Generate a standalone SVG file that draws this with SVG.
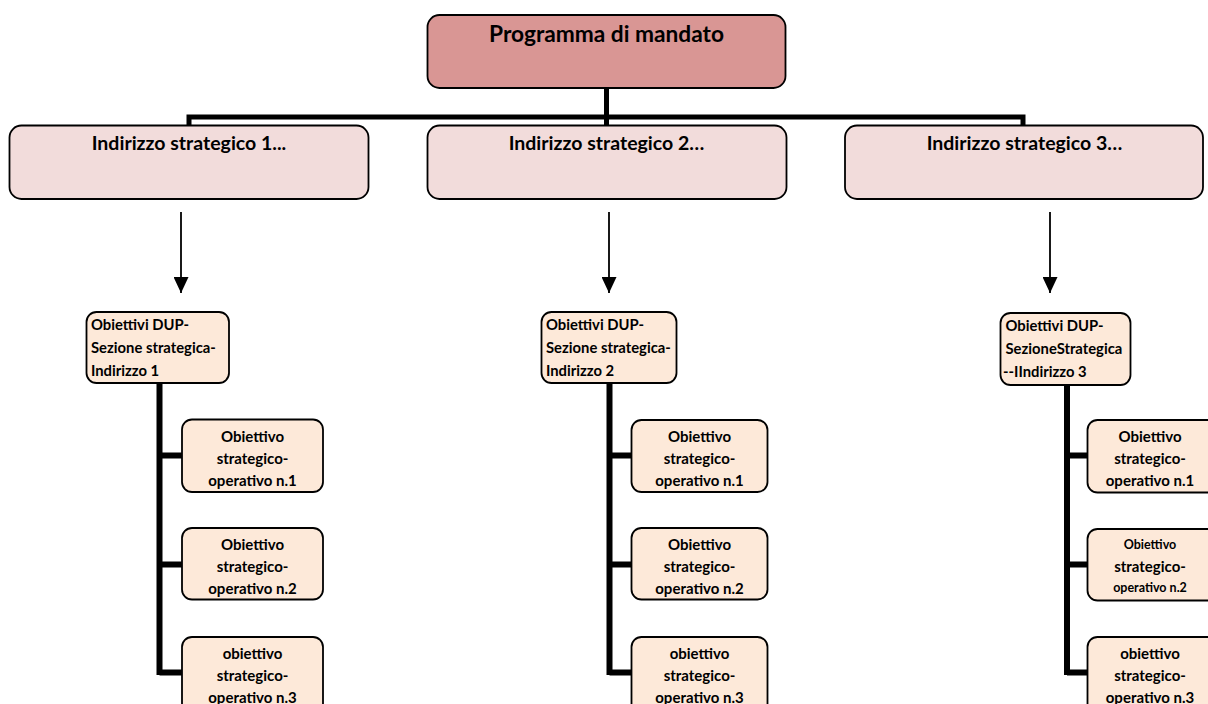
<svg xmlns="http://www.w3.org/2000/svg" width="1208" height="704" viewBox="0 0 1208 704">
<defs>
<style>
.box{stroke:#000;stroke-width:1.8}
.top{fill:#d99694}
.ind{fill:#f2dcdb}
.obj{fill:#fde9d9}
text{font-family:Lato,"Open Sans",sans-serif;font-weight:bold;fill:#000}
.t1{font-size:22.7px;text-anchor:middle}
.t2{font-size:19.5px;text-anchor:middle}
.t3{font-size:14.8px}
.t4{font-size:15px;text-anchor:middle}
.t5{font-size:12.5px;text-anchor:middle}
.bar{stroke:#000;stroke-width:5;fill:none}
.arr{stroke:#000;stroke-width:1.8;fill:none}
</style>
<marker id="ah" viewBox="0 0 16 15" refX="16" refY="7.5" markerWidth="16" markerHeight="15" markerUnits="userSpaceOnUse" orient="auto">
<path d="M0,0 L16,7.5 L0,15 Z" fill="#000"/>
</marker>
</defs>
<rect width="1208" height="704" fill="#fff"/>

<g id="connectors">
<path class="bar" d="M606.5,88 V117 M186.5,117 H1025.5 M189,117 V125 M606.5,117 V125 M1023,117 V125"/>
<line class="arr" x1="181" y1="212" x2="181" y2="293" marker-end="url(#ah)"/>
<line class="arr" x1="609" y1="212" x2="609" y2="293" marker-end="url(#ah)"/>
<line class="arr" x1="1050" y1="212" x2="1050" y2="293" marker-end="url(#ah)"/>
<path class="bar" style="stroke-width:6" d="M159.5,383 V675 M159.5,455.5 H183 M159.5,564.5 H183 M159.5,672.5 H183"/>
<path class="bar" style="stroke-width:6" d="M609.5,383 V675 M609.5,455.5 H632 M609.5,564.5 H632 M609.5,672.5 H632"/>
<path class="bar" style="stroke-width:6" d="M1067,385 V675 M1067,455.5 H1088 M1067,564.5 H1088 M1067,672.5 H1088"/>
</g>

<g id="programma">
<rect class="box top" x="427.5" y="15" width="358" height="73" rx="12"/>
<text class="t1" x="606.5" y="42">Programma di mandato</text>
</g>

<g id="indirizzo1">
<rect class="box ind" x="9.5" y="125.5" width="359" height="73.5" rx="12"/>
<text class="t2" x="189" y="149.5">Indirizzo strategico 1...</text>
</g>
<g id="indirizzo2">
<rect class="box ind" x="427.5" y="125.5" width="359" height="73.5" rx="12"/>
<text class="t2" x="606.5" y="149.5">Indirizzo strategico 2…</text>
</g>
<g id="indirizzo3">
<rect class="box ind" x="845" y="125.5" width="358" height="73.5" rx="12"/>
<text class="t2" x="1024.5" y="149.5">Indirizzo strategico 3…</text>
</g>

<g id="dup1">
<rect class="box obj" x="86.5" y="312" width="142.5" height="71" rx="10"/>
<text class="t3"><tspan x="91" y="330">Obiettivi DUP-</tspan><tspan x="91" y="353">Sezione strategica-</tspan><tspan x="91" y="376">Indirizzo 1</tspan></text>
</g>
<g id="dup2">
<rect class="box obj" x="541.5" y="312" width="135" height="71" rx="10"/>
<text class="t3"><tspan x="546" y="330">Obiettivi DUP-</tspan><tspan x="546" y="353">Sezione strategica-</tspan><tspan x="546" y="376">Indirizzo 2</tspan></text>
</g>
<g id="dup3">
<rect class="box obj" x="1000.5" y="313" width="130" height="72" rx="10"/>
<text class="t3"><tspan x="1005.5" y="331">Obiettivi DUP-</tspan><tspan x="1005.5" y="354">SezioneStrategica</tspan><tspan x="1003" y="377">--IIndirizzo 3</tspan></text>
</g>

<g id="obj1-1">
<rect class="box obj" x="182" y="419.5" width="141" height="72.5" rx="10"/>
<text class="t4"><tspan x="252.5" y="441.5">Obiettivo</tspan><tspan x="252.5" y="463.5">strategico-</tspan><tspan x="252.5" y="485.5">operativo n.1</tspan></text>
</g>
<g id="obj1-2">
<rect class="box obj" x="182" y="528" width="141" height="71.5" rx="10"/>
<text class="t4"><tspan x="252.5" y="550">Obiettivo</tspan><tspan x="252.5" y="572">strategico-</tspan><tspan x="252.5" y="594">operativo n.2</tspan></text>
</g>
<g id="obj1-3">
<rect class="box obj" x="182" y="637" width="141" height="80" rx="10"/>
<text class="t4"><tspan x="252.5" y="659">obiettivo</tspan><tspan x="252.5" y="681">strategico-</tspan><tspan x="252.5" y="703">operativo n.3</tspan></text>
</g>

<g id="obj2-1">
<rect class="box obj" x="631.5" y="420" width="136" height="72" rx="10"/>
<text class="t4"><tspan x="699.5" y="441.5">Obiettivo</tspan><tspan x="699.5" y="463.5">strategico-</tspan><tspan x="699.5" y="485.5">operativo n.1</tspan></text>
</g>
<g id="obj2-2">
<rect class="box obj" x="631.5" y="528" width="136" height="71.5" rx="10"/>
<text class="t4"><tspan x="699.5" y="550">Obiettivo</tspan><tspan x="699.5" y="572">strategico-</tspan><tspan x="699.5" y="594">operativo n.2</tspan></text>
</g>
<g id="obj2-3">
<rect class="box obj" x="631.5" y="637" width="136" height="80" rx="10"/>
<text class="t4"><tspan x="699.5" y="659">obiettivo</tspan><tspan x="699.5" y="681">strategico-</tspan><tspan x="699.5" y="703">operativo n.3</tspan></text>
</g>

<g id="obj3-1">
<rect class="box obj" x="1087.5" y="420" width="130" height="72.5" rx="10"/>
<text class="t4"><tspan x="1150" y="441.5">Obiettivo</tspan><tspan x="1150" y="463.5">strategico-</tspan><tspan x="1150" y="485.5">operativo n.1</tspan></text>
</g>
<g id="obj3-2">
<rect class="box obj" x="1087.5" y="529" width="130" height="71.5" rx="10"/>
<text class="t5" x="1150" y="549">Obiettivo</text>
<text class="t4" x="1150" y="572">strategico-</text>
<text class="t5" x="1150" y="592">operativo n.2</text>
</g>
<g id="obj3-3">
<rect class="box obj" x="1087.5" y="637" width="130" height="80" rx="10"/>
<text class="t4"><tspan x="1150" y="659">obiettivo</tspan><tspan x="1150" y="681">strategico-</tspan><tspan x="1150" y="703">operativo n.3</tspan></text>
</g>
</svg>
